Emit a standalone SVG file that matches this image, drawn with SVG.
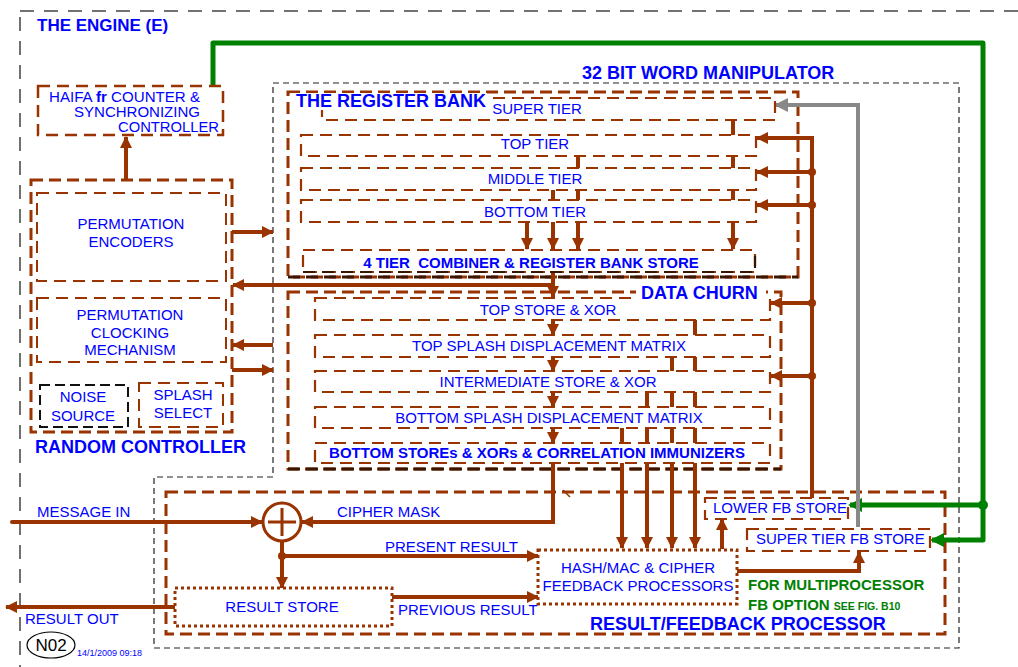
<svg xmlns="http://www.w3.org/2000/svg" width="1018" height="667" viewBox="0 0 1018 667">
<style>
text{font-family:"Liberation Sans",Arial,sans-serif;fill:#0000ff;font-size:15px}
.b{font-weight:bold}
.t18{font-size:18px;font-weight:bold}
.mid{text-anchor:middle}
.cont{fill:none;stroke:#993300;stroke-width:3;stroke-dasharray:12 6}
.dark{fill:none;stroke:#3a1500;stroke-width:3;stroke-dasharray:12 6}
.box{fill:#fff;stroke:#993300;stroke-width:2.2;stroke-dasharray:12 7}
.dotb{fill:#fff;stroke:#993300;stroke-width:3;stroke-dasharray:3 3}
.conn{fill:none;stroke:#993300;stroke-width:4}
.ar{marker-end:url(#ab)}
.g{fill:none;stroke:#008000;stroke-width:5;stroke-linejoin:round}
</style>
<defs>
<marker id="ab" markerUnits="userSpaceOnUse" markerWidth="13" markerHeight="13" refX="11" refY="6" orient="auto"><path d="M0,0 L12,6 L0,12 z" fill="#993300"/></marker>
<marker id="ag" markerUnits="userSpaceOnUse" markerWidth="15" markerHeight="15" refX="12" refY="7" orient="auto"><path d="M0,0 L14,7 L0,14 z" fill="#008000"/></marker>
<marker id="agr" markerUnits="userSpaceOnUse" markerWidth="15" markerHeight="15" refX="12" refY="7" orient="auto"><path d="M0,0 L14,7 L0,14 z" fill="#888"/></marker>
</defs>
<rect width="1018" height="667" fill="#fff"/>

<g id="containers">
<rect x="20" y="11" width="1010" height="680" fill="none" stroke="#444" stroke-width="1.5" stroke-dasharray="14 10"/>
<polygon points="273,83 959,83 959,648 154,648 154,477 273,477" fill="none" stroke="#222" stroke-width="1.2" stroke-dasharray="6 4"/>
<rect class="cont" x="288" y="92" width="510" height="185"/>
<path class="dark" d="M288,277 H798"/>
<rect class="cont" x="288" y="292" width="493" height="177"/>
<path class="dark" d="M288,469 H781"/>
<rect class="cont" x="166" y="492" width="779" height="142"/>
<rect class="cont" x="31" y="180" width="201" height="252" stroke-width="2.5"/>
<text x="37" y="31" class="b" style="font-size:17px">THE ENGINE (E)</text>
<text x="582" y="79" class="t18">32 BIT WORD MANIPULATOR</text>
<text x="35" y="453" class="t18">RANDOM CONTROLLER</text>
<text x="590" y="630" class="t18">RESULT/FEEDBACK PROCESSOR</text>
</g>

<g id="connectors">
<path class="conn ar" d="M126,179 V137"/>
<path class="conn ar" d="M232,232 H273"/>
<path class="conn ar" d="M553,272 V297"/>
<path class="conn ar" d="M553,285 H233"/>
<path class="conn ar" d="M273,345 H233"/>
<path class="conn ar" d="M232,370 H273"/>
<path class="conn ar" d="M527,222 V249"/>
<path class="conn ar" d="M553,222 V249"/>
<path class="conn ar" d="M578,222 V249"/>
<path class="conn ar" d="M733,222 V249"/>
<path class="conn" d="M733,120 V135 M733,156 V168 M733,190 V200 M578,156 V168 M578,190 V200 M553,190 V200"/>
<path class="conn ar" d="M812,498 V138 H757"/>
<path class="conn ar" d="M812,172 H757"/>
<path class="conn ar" d="M812,205 H757"/>
<path class="conn ar" d="M812,303 H771"/>
<path class="conn ar" d="M812,376 H771"/>
<circle cx="812" cy="172" r="4" fill="#993300"/>
<circle cx="812" cy="205" r="4" fill="#993300"/>
<circle cx="812" cy="303" r="4" fill="#993300"/>
<circle cx="812" cy="376" r="4" fill="#993300"/>
<path class="conn ar" d="M553,320 V335"/>
<path class="conn ar" d="M553,357 V371"/>
<path class="conn ar" d="M553,392 V407"/>
<path class="conn ar" d="M553,428 V443"/>
<path class="conn ar" d="M695,320 V548"/>
<path class="conn ar" d="M672,357 V548"/>
<path class="conn ar" d="M647,392 V548"/>
<path class="conn ar" d="M622,428 V548"/>
<path class="conn ar" d="M553,463 V522 H302"/>
<path class="conn ar" d="M12,522 H262" stroke-linecap="round"/>
<path class="conn" d="M282,541 V556"/>
<circle cx="282" cy="556" r="4" fill="#993300"/>
<path class="conn ar" d="M282,556 H538"/>
<path class="conn ar" d="M282,556 V588"/>
<path class="conn ar" d="M392,597 H538"/>
<path class="conn ar" d="M175,607 H6"/>
<path class="conn ar" d="M722,549 V519"/>
<path class="conn ar" d="M737,571 H859 V552"/>
<path d="M563,490 L570,497" stroke="#993300" stroke-width="1.5"/>
<path class="g" d="M213,85 V43 H983 V540 H932" marker-end="url(#ag)"/>
<path class="g" d="M983,505 H850" marker-end="url(#ag)"/>
<circle cx="983" cy="505" r="5" fill="#008000"/>
<path d="M858,527 V105 H776" fill="none" stroke="#888" stroke-width="4" marker-end="url(#agr)"/>
<text x="37" y="517">MESSAGE IN</text>
<text x="337" y="517">CIPHER MASK</text>
<text x="385" y="552">PRESENT RESULT</text>
<text x="398" y="615">PREVIOUS RESULT</text>
<text x="25" y="624">RESULT OUT</text>
</g>

<g id="haifa">
<rect x="38" y="86" width="185" height="49" fill="#fff" stroke="#993300" stroke-width="2.5" stroke-dasharray="12 7"/>
<text x="49" y="102" style="font-size:14px" textLength="151" lengthAdjust="spacingAndGlyphs">HAIFA <tspan class="b">fr</tspan> COUNTER &amp;</text>
<text x="74" y="117" style="font-size:14px" textLength="126" lengthAdjust="spacingAndGlyphs">SYNCHRONIZING</text>
<text x="118" y="132" style="font-size:14px" textLength="101" lengthAdjust="spacingAndGlyphs">CONTROLLER</text>
</g>

<g id="perm-encoders">
<rect x="37" y="193" width="189" height="88" fill="none" stroke="#993300" stroke-width="2" stroke-dasharray="12 7"/>
<text x="131" y="229" class="mid">PERMUTATION</text>
<text x="131" y="247" class="mid">ENCODERS</text>
</g>
<g id="perm-clocking">
<rect x="37" y="298" width="189" height="64" fill="none" stroke="#993300" stroke-width="2" stroke-dasharray="12 7"/>
<text x="130" y="320" class="mid">PERMUTATION</text>
<text x="130" y="338" class="mid">CLOCKING</text>
<text x="130" y="355" class="mid">MECHANISM</text>
</g>
<g id="noise-source">
<rect x="40" y="385" width="88" height="42" fill="none" stroke="#111" stroke-width="2" stroke-dasharray="10 5"/>
<text x="83" y="402" class="mid">NOISE</text>
<text x="83" y="421" class="mid">SOURCE</text>
</g>
<g id="splash-select">
<rect x="139" y="383" width="84" height="44" fill="none" stroke="#993300" stroke-width="2" stroke-dasharray="12 7"/>
<text x="183" y="400" class="mid">SPLASH</text>
<text x="183" y="418" class="mid">SELECT</text>
</g>

<g id="super-tier">
<rect class="box" x="322" y="98" width="453" height="22"/>
<text x="537" y="114" class="mid">SUPER TIER</text>
</g>
<g id="register-bank-label">
<rect x="290" y="93" width="197" height="17" fill="#fff"/>
<text x="296" y="107" class="t18">THE REGISTER BANK</text>
</g>
<g id="top-tier">
<rect class="box" x="301" y="135" width="455" height="21"/>
<text x="535" y="149" class="mid">TOP TIER</text>
</g>
<g id="middle-tier">
<rect class="box" x="301" y="168" width="455" height="22"/>
<text x="535" y="184" class="mid">MIDDLE TIER</text>
</g>
<g id="bottom-tier">
<rect class="box" x="301" y="200" width="455" height="22"/>
<text x="535" y="217" class="mid">BOTTOM TIER</text>
</g>
<g id="combiner">
<rect class="box" x="303" y="250" width="452" height="22"/>
<path d="M303,272 H755 V250" fill="none" stroke="#3a1500" stroke-width="2.2" stroke-dasharray="12 7"/>
<text x="531" y="268" class="mid b" xml:space="preserve">4 TIER  COMBINER &amp; REGISTER BANK STORE</text>
</g>

<g id="top-store">
<rect class="box" x="315" y="298" width="455" height="22"/>
<text x="548" y="315" class="mid">TOP STORE &amp; XOR</text>
</g>
<g id="data-churn-label">
<rect x="636" y="282" width="130" height="18" fill="#fff"/>
<text x="641" y="299" class="t18">DATA CHURN</text>
</g>
<g id="top-splash">
<rect class="box" x="315" y="335" width="455" height="22"/>
<text x="549" y="351" class="mid">TOP SPLASH DISPLACEMENT MATRIX</text>
</g>
<g id="intermediate-store">
<rect class="box" x="315" y="371" width="455" height="21"/>
<text x="548" y="387" class="mid">INTERMEDIATE STORE &amp; XOR</text>
</g>
<g id="bottom-splash">
<rect class="box" x="315" y="407" width="455" height="21"/>
<text x="549" y="423" class="mid">BOTTOM SPLASH DISPLACEMENT MATRIX</text>
</g>
<g id="bottom-stores">
<rect class="box" x="315" y="443" width="455" height="20"/>
<text x="537" y="458" class="mid b">BOTTOM STOREs &amp; XORs &amp; CORRELATION IMMUNIZERS</text>
</g>

<g id="xor">
<circle cx="282" cy="522" r="19" fill="#fff" stroke="#993300" stroke-width="3"/>
<path d="M282,508 V536 M268,522 H296" stroke="#993300" stroke-width="3"/>
</g>
<g id="result-store">
<rect class="dotb" x="175" y="588" width="217" height="38"/>
<text x="282" y="612" class="mid">RESULT STORE</text>
</g>
<g id="hash-mac">
<rect class="dotb" x="538" y="550" width="199" height="54"/>
<text x="638" y="573" class="mid">HASH/MAC &amp; CIPHER</text>
<text x="638" y="591" class="mid">FEEDBACK PROCESSORS</text>
</g>
<g id="lower-fb-store">
<rect class="box" x="705" y="498" width="143" height="21"/>
<text x="713" y="513">LOWER FB STORE</text>
</g>
<g id="super-tier-fb-store">
<rect class="box" x="747" y="529" width="183" height="22"/>
<text x="756" y="544">SUPER TIER FB STORE</text>
</g>
<g id="multiprocessor-note">
<text x="748" y="590" class="b" style="fill:#008000">FOR MULTIPROCESSOR</text>
<text x="748" y="610" class="b" style="fill:#008000">FB OPTION <tspan style="font-size:10.5px">SEE FIG. B10</tspan></text>
</g>
<g id="n02">
<ellipse cx="51" cy="645" rx="24" ry="13" fill="none" stroke="#000" stroke-width="1.2"/>
<text x="51" y="651" class="mid" style="fill:#000;font-size:17px">N02</text>
<text x="77" y="656" style="font-size:9px">14/1/2009 09:18</text>
</g>
</svg>
